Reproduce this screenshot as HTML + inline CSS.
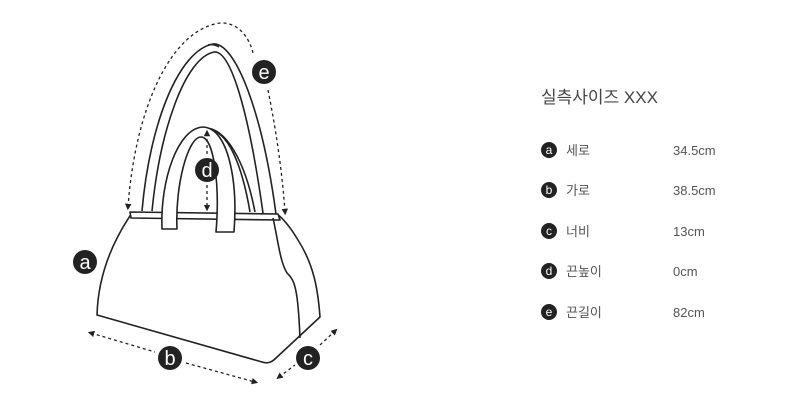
<!DOCTYPE html>
<html><head><meta charset="utf-8"><style>
body{margin:0;background:#fff;width:800px;height:400px;overflow:hidden}
svg{display:block}
text{font-family:"Liberation Sans","Noto Sans CJK KR",sans-serif}
</style></head><body>
<svg width="800" height="400" viewBox="0 0 800 400">
<defs><marker id="ar" viewBox="0 0 10 10" refX="5" refY="5" markerWidth="5" markerHeight="5" orient="auto-start-reverse"><path d="M0,0L10,5L0,10z" fill="#222"/></marker></defs>
<g fill="none" stroke="#222" stroke-width="1.6" stroke-linejoin="round">
<!-- big strap -->
<path d="M142,211 C150,120 180,50 213,44 C235,42 262,110 276,214"/>
<path d="M152,211 C160,130 185,58 214,52 C232,50 250,120 263,213"/>
<path d="M208,45 C212,44 216,45 219,47"/>
<!-- back handle lines -->
<path d="M203,128 C225,126 245,160 255,212"/>
<path d="M208,130 C228,130 242,165 250,212"/>
<!-- body -->
<path d="M132,213 C110,245 98,280 97,315 L262,362 C268,364 272,362 276,358 L320,317 C318,290 314,265 298,240 C292,230 285,220 277,214"/>
<path d="M130,212 L278,214 L280,220 L131,218 Z" fill="#fff"/>
<path d="M273,218 C278,240 280,262 287,273 C295,280 298,290 300,338"/>
<!-- front handle -->
<path d="M162,229 C160,180 178,128 203,127 C228,128 238,180 234,232 L216,232 C220,185 214,137 201,137 C188,137 175,185 177,229 Z" fill="#fff"/>
</g>
<g fill="none" stroke="#222" stroke-width="1.3" stroke-dasharray="3,3">
<path d="M128,207 C135,110 170,30 220,23 C240,22 250,40 253,53" marker-start="url(#ar)"/>
<path d="M268,90 C276,130 282,170 285,212" marker-end="url(#ar)"/>
<path d="M207,133 L207,155" marker-start="url(#ar)"/>
<path d="M207,185 L207,208" marker-end="url(#ar)"/>
<path d="M91,333 L155,352" marker-start="url(#ar)"/>
<path d="M186,363 L255,382" marker-end="url(#ar)"/>
<path d="M279,377 L295,365" marker-start="url(#ar)"/>
<path d="M320,345 L335,331" marker-end="url(#ar)"/>
</g>
<g font-size="20" fill="#fff" text-anchor="middle">
<circle cx="264" cy="72" r="12" fill="#222"/><text x="264" y="79">e</text>
<circle cx="207" cy="170" r="12" fill="#222"/><text x="207" y="177">d</text>
<circle cx="85" cy="262" r="12" fill="#222"/><text x="85" y="269">a</text>
<circle cx="170" cy="358" r="12" fill="#222"/><text x="170" y="365">b</text>
<circle cx="308" cy="358" r="12" fill="#222"/><text x="308" y="365">c</text>
</g>
<text x="541" y="103" font-size="17" fill="#444">실측사이즈 XXX</text>
<g font-size="13" fill="#555">
<g fill="#fff" text-anchor="middle" font-size="12">
<circle cx="549" cy="150" r="8" fill="#222"/><text x="549" y="154">a</text>
<circle cx="549" cy="190" r="8" fill="#222"/><text x="549" y="194">b</text>
<circle cx="549" cy="231" r="8" fill="#222"/><text x="549" y="235">c</text>
<circle cx="549" cy="271" r="8" fill="#222"/><text x="549" y="275">d</text>
<circle cx="549" cy="312" r="8" fill="#222"/><text x="549" y="316">e</text>
</g>
<text x="566" y="155">세로</text><text x="673" y="155">34.5cm</text>
<text x="566" y="195">가로</text><text x="673" y="195">38.5cm</text>
<text x="566" y="236">너비</text><text x="673" y="236">13cm</text>
<text x="566" y="276">끈높이</text><text x="673" y="276">0cm</text>
<text x="566" y="317">끈길이</text><text x="673" y="317">82cm</text>
</g>
</svg>
</body></html>
